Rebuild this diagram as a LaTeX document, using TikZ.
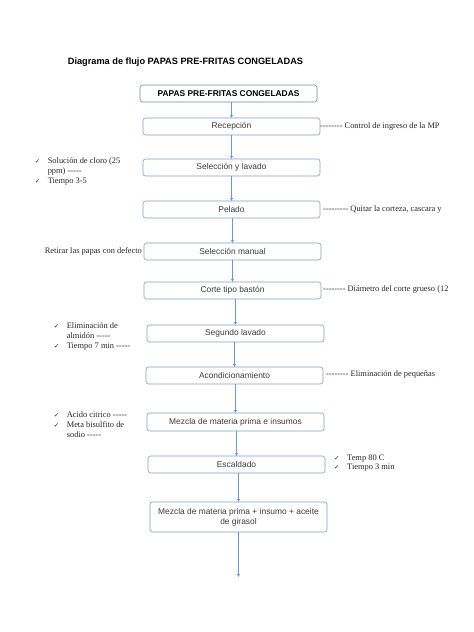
\documentclass[tikz,border=0pt]{standalone}
\usepackage{fontspec}
\setmainfont{Liberation Serif}
\newfontfamily\notefont{Liberation Serif}[Ligatures=TeXOff]
\newfontfamily\arialfont{Liberation Sans}
\newfontfamily\symfont{DejaVu Sans}
\usetikzlibrary{arrows.meta,positioning}
\definecolor{boxline}{HTML}{7F9FC6}
\definecolor{boxlinedark}{HTML}{6F86A3}
\definecolor{arrowblue}{HTML}{6A98CC}
\definecolor{boxtext}{HTML}{3A3A3A}
\newcommand{\chk}{{\symfont\fontsize{6.5}{7}\selectfont ✓}}
\newcommand{\chkitem}[1]{\makebox[13pt][l]{\chk}& #1\\}

\begin{document}
\begin{tikzpicture}[
  node distance=25pt,
  box/.style={draw=boxline, line width=0.6pt, rounded corners=2.5pt, align=center, text=boxtext,
    font={\arialfont\fontsize{8.4}{10}\selectfont}, minimum width=177pt, minimum height=17pt, inner sep=1pt, outer sep=0pt},
  note/.style={font={\notefont\fontsize{8.4}{9.8}\selectfont}, text=black!85, inner sep=0pt},
  arr/.style={-{Latex[length=3pt,width=3pt]}, draw=arrowblue, thin}
]
\useasboundingbox (0,0) rectangle (474pt,-632pt);
\node[font={\arialfont\bfseries\fontsize{9.2}{11}\selectfont}] (title) at (185.5pt,-62pt) {Diagrama de flujo PAPAS PRE-FRITAS CONGELADAS};
\node[box, draw=boxlinedark, text=black, font={\arialfont\bfseries\fontsize{8.4}{10}\selectfont}] (prod) at (228.5pt,-93.5pt) {PAPAS PRE-FRITAS CONGELADAS};
\node[box, below=16pt of prod, xshift=3pt] (recep) {Recepción};
\node[box, below=24pt of recep] (sellav) {Selección y lavado};
\node[box, below=of sellav] (pelado) {Pelado};
\node[box, below=of pelado, xshift=1pt] (selman) {Selección manual};
\node[box, below=22pt of selman] (corte) {Corte tipo bastón};
\node[box, below=26pt of corte, xshift=3pt] (seglav) {Segundo lavado};
\node[box, below=of seglav, xshift=-1pt] (acond) {Acondicionamiento};
\node[box, below=29pt of acond, xshift=1pt, minimum height=18pt] (mezcla) {Mezcla de materia prima e insumos};
\node[box, below=of mezcla, xshift=1pt] (escal) {Escaldado};
\node[box, below=29pt of escal, xshift=2pt, minimum height=30pt] (girasol) {Mezcla de materia prima + insumo + aceite\\de girasol};
\coordinate[below=45pt of girasol] (fin);

% notas
\node[note, anchor=west] (nrecep) at (recep.east) {-------- Control de ingreso de la MP};
\node[note, left=15pt of sellav, yshift=-4pt] (nsellav) {\begin{tabular}{@{}l@{}p{80pt}@{}}
  \chkitem{Solución de cloro (25\newline ppm) -----}
  \chkitem{Tiempo 3-5}
\end{tabular}};
\node[note, right=3pt of pelado] (npelado) {--------- Quitar la corteza, cascara y};
\node[note, left=2pt of selman] (nselman) {Retirar las papas con defecto};
\node[note, right=2pt of corte, yshift=1pt] (ncorte) {-------- Diámetro del corte grueso (12};
\node[note, left=15pt of seglav, yshift=-3pt] (nseglav) {\begin{tabular}{@{}l@{}p{65pt}@{}}
  \chkitem{Eliminación de\newline almidón -----}
  \chkitem{Tiempo 7 min -----}
\end{tabular}};
\node[note, right=3pt of acond, yshift=1pt] (nacond) {-------- Eliminación de pequeñas};
\node[note, left=15pt of mezcla, yshift=-3.5pt] (nmezcla) {\begin{tabular}{@{}l@{}p{65pt}@{}}
  \chkitem{Acido citrico -----}
  \chkitem{Meta bisulfito de\newline sodio -----}
\end{tabular}};
\node[note, right=9pt of escal, yshift=1.5pt] (nescal) {\begin{tabular}{@{}l@{}l@{}}
  \chkitem{Temp 80 C}
  \chkitem{Tiempo 3 min}
\end{tabular}};

\draw[arr] (recep.north |- prod.south) -- (recep.north);
\draw[arr] (sellav.north |- recep.south) -- (sellav.north);
\draw[arr] (pelado.north |- sellav.south) -- (pelado.north);
\draw[arr] (selman.north |- pelado.south) -- (selman.north);
\draw[arr] (corte.north |- selman.south) -- (corte.north);
\draw[arr] (seglav.north |- corte.south) -- (seglav.north);
\draw[arr] (acond.north |- seglav.south) -- (acond.north);
\draw[arr] (mezcla.north |- acond.south) -- (mezcla.north);
\draw[arr] (escal.north |- mezcla.south) -- (escal.north);
\draw[arr] (girasol.north |- escal.south) -- (girasol.north);
\draw[arr] (girasol.south) -- (fin);
\end{tikzpicture}
\end{document}
